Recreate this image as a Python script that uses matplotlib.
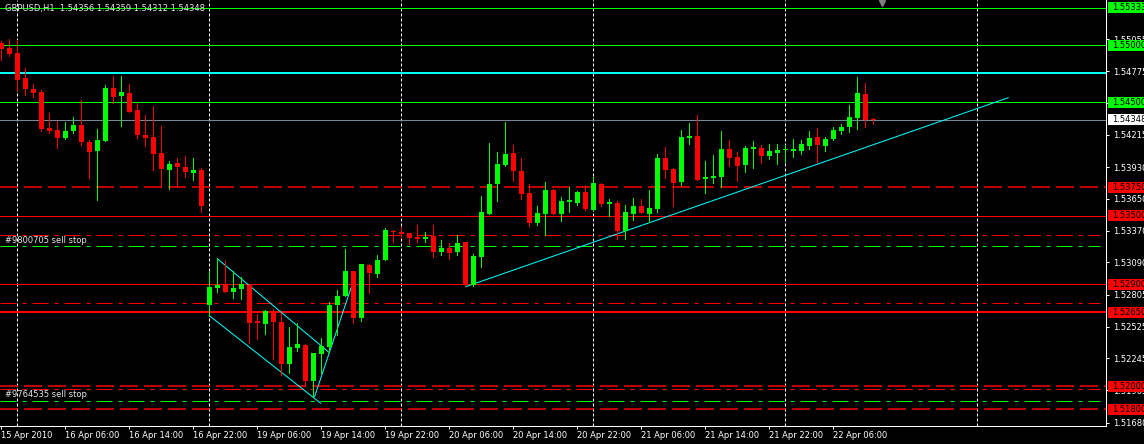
import numpy as np
import matplotlib
matplotlib.use('Agg')
import matplotlib.pyplot as plt
from matplotlib.patches import Rectangle
from matplotlib.transforms import blended_transform_factory

plt.rcParams['font.family'] = ['DejaVu Sans']
plt.rcParams['lines.scale_dashes'] = False

# GBPUSD H1, 15 Apr 22:00 .. 22 Apr 11:00 (weekend skipped)
opens = [1.55021, 1.54977, 1.54931, 1.54714, 1.54617, 1.54590, 1.54277, 1.54256, 1.54186, 1.54247,
         1.54300, 1.54150, 1.54074, 1.54162, 1.54626, 1.54558, 1.54582, 1.54432, 1.54212, 1.54195,
         1.54054, 1.53907, 1.53966, 1.53931, 1.53881, 1.53904, 1.52716, 1.52868, 1.52901, 1.52833,
         1.52857, 1.52892, 1.52575, 1.52552, 1.52663, 1.52566, 1.52200, 1.52341, 1.52364, 1.52047,
         1.52288, 1.52346, 1.52716, 1.52795, 1.53015, 1.52601, 1.53068, 1.52989, 1.53112, 1.53367,
         1.53358, 1.53350, 1.53317, 1.53300, 1.53326, 1.53185, 1.53218, 1.53185, 1.53270, 1.52892,
         1.53141, 1.53520, 1.53781, 1.53951, 1.54053, 1.53895, 1.53702, 1.53438, 1.53520, 1.53728,
         1.53520, 1.53625, 1.53616, 1.53710, 1.53555, 1.53781, 1.53608, 1.53613, 1.53370, 1.53520,
         1.53587, 1.53520, 1.53561, 1.54010, 1.53913, 1.53798, 1.54188, 1.54203, 1.53828, 1.53833,
         1.53842, 1.54089, 1.54018, 1.53951, 1.54092, 1.54097, 1.54030, 1.54056, 1.54077, 1.54071,
         1.54074, 1.54118, 1.54194, 1.54118, 1.54180, 1.54247, 1.54282, 1.54362, 1.54573, 1.54356]
highs = [1.55039, 1.55057, 1.55048, 1.54802, 1.54664, 1.54608, 1.54406, 1.54338, 1.54326, 1.54370,
         1.54520, 1.54168, 1.54265, 1.54649, 1.54731, 1.54731, 1.54661, 1.54494, 1.54388, 1.54467,
         1.54291, 1.53983, 1.54010, 1.54027, 1.54010, 1.53922, 1.53015, 1.53127, 1.53103, 1.53015,
         1.52962, 1.52892, 1.52637, 1.52672, 1.52681, 1.52646, 1.52522, 1.52558, 1.52373, 1.52294,
         1.52426, 1.52742, 1.52848, 1.53209, 1.53015, 1.53077, 1.53077, 1.53156, 1.53393, 1.53376,
         1.53402, 1.53350, 1.53420, 1.53358, 1.53420, 1.53288, 1.53262, 1.53332, 1.53270, 1.53165,
         1.53675, 1.54141, 1.54062, 1.54326, 1.54124, 1.54010, 1.53781, 1.53587, 1.53798, 1.53737,
         1.53666, 1.53754, 1.53719, 1.53772, 1.53842, 1.53790, 1.53649, 1.53631, 1.53596, 1.53658,
         1.53649, 1.53728, 1.54045, 1.54106, 1.53921, 1.54256, 1.54317, 1.54388, 1.53983, 1.54036,
         1.54247, 1.54168, 1.54062, 1.54115, 1.54159, 1.54124, 1.54133, 1.54133, 1.54124, 1.54177,
         1.54168, 1.54247, 1.54273, 1.54194, 1.54282, 1.54309, 1.54476, 1.54722, 1.54669, 1.54359]
lows = [1.54872, 1.54907, 1.54608, 1.54564, 1.54549, 1.54250, 1.54230, 1.54101, 1.54177, 1.54230,
        1.54124, 1.53837, 1.53643, 1.54162, 1.54491, 1.54294, 1.54417, 1.54189, 1.54118, 1.53907,
        1.53755, 1.53740, 1.53755, 1.53846, 1.53819, 1.53538, 1.52622, 1.52833, 1.52833, 1.52780,
        1.52769, 1.52382, 1.52417, 1.52464, 1.52244, 1.52097, 1.52118, 1.52311, 1.52006, 1.51909,
        1.52121, 1.52294, 1.52452, 1.52795, 1.52558, 1.52578, 1.52821, 1.52962, 1.53112, 1.53270,
        1.53306, 1.53256, 1.53273, 1.53273, 1.53141, 1.53159, 1.53124, 1.53159, 1.52883, 1.52886,
        1.53053, 1.53520, 1.53634, 1.53942, 1.53810, 1.53652, 1.53414, 1.53423, 1.53335, 1.53520,
        1.53458, 1.53537, 1.53599, 1.53555, 1.53555, 1.53590, 1.53502, 1.53300, 1.53300, 1.53467,
        1.53526, 1.53449, 1.53537, 1.53836, 1.53590, 1.53775, 1.54136, 1.53819, 1.53704, 1.53792,
        1.53757, 1.53942, 1.53810, 1.53889, 1.53921, 1.53968, 1.54004, 1.53960, 1.53974, 1.54021,
        1.54048, 1.54092, 1.53977, 1.54074, 1.54168, 1.54224, 1.54241, 1.54265, 1.54282, 1.54312]
closes = [1.54969, 1.54925, 1.54699, 1.54617, 1.54582, 1.54265, 1.54247, 1.54189, 1.54247, 1.54300,
          1.54153, 1.54065, 1.54168, 1.54626, 1.54549, 1.54590, 1.54417, 1.54212, 1.54189, 1.54048,
          1.53916, 1.53957, 1.53934, 1.53890, 1.53904, 1.53590, 1.52874, 1.52892, 1.52833, 1.52866,
          1.52901, 1.52560, 1.52560, 1.52663, 1.52569, 1.52200, 1.52346, 1.52373, 1.52047, 1.52294,
          1.52355, 1.52716, 1.52795, 1.53015, 1.52601, 1.53077, 1.52998, 1.53112, 1.53376, 1.53358,
          1.53344, 1.53309, 1.53300, 1.53317, 1.53185, 1.53218, 1.53174, 1.53262, 1.52892, 1.53147,
          1.53534, 1.53781, 1.53957, 1.54045, 1.53898, 1.53696, 1.53438, 1.53526, 1.53728, 1.53520,
          1.53631, 1.53643, 1.53710, 1.53564, 1.53790, 1.53608, 1.53622, 1.53370, 1.53534, 1.53587,
          1.53526, 1.53570, 1.54010, 1.53907, 1.53792, 1.54194, 1.54203, 1.53819, 1.53842, 1.53854,
          1.54089, 1.54012, 1.53942, 1.54097, 1.54106, 1.54030, 1.54071, 1.54080, 1.54083, 1.54089,
          1.54133, 1.54185, 1.54124, 1.54180, 1.54256, 1.54282, 1.54370, 1.54581, 1.54344, 1.54348]

time_labels = ['15 Apr 2010', '16 Apr 06:00', '16 Apr 14:00', '16 Apr 22:00', '19 Apr 06:00',
               '19 Apr 14:00', '19 Apr 22:00', '20 Apr 06:00', '20 Apr 14:00', '20 Apr 22:00',
               '21 Apr 06:00', '21 Apr 14:00', '21 Apr 22:00', '22 Apr 06:00']
day_starts = [2, 26, 50, 74, 98, 122]   # bar index of 00:00 of each day

price_ticks = [1.55055, 1.54775, 1.54495, 1.54215, 1.53930, 1.53650, 1.53370, 1.53090,
               1.52805, 1.52525, 1.52245, 1.51965, 1.51680]

# objects on the chart
green_levels = [1.55333, 1.55000, 1.54500]
red_levels = [1.53500, 1.52900]
red_thick_level = 1.52650
red_dashed_levels = [1.53750, 1.52000, 1.51800]
aqua_level = 1.54760
bid = 1.54348
order_prices = [1.53232, 1.51871]
order_names = ['#9800705 sell stop', '#9764535 sell stop']
sltp_levels = [1.53332, 1.52731, 1.51977]

trend_lines = [
    ([27.04, 41.04], [1.53123, 1.52296]),
    ([26.04, 39.96], [1.52622, 1.51851]),
    ([39.2, 44.0], [1.51910, 1.52918]),
    ([58.1, 125.9], [1.52877, 1.54540]),
]

W, H = 1144, 444
PX = 0.72  # one pixel in points

fig = plt.figure(figsize=(W / 100, H / 100), dpi=100)
fig.patch.set_facecolor('black')
ax = fig.add_axes([0, 18.5 / H, 1105.5 / W, 425.5 / H])
ax.set_facecolor('black')
ax.set_xlim(-0.125, 138.06)
ax.set_ylim(1.51655, 1.55400)
ppu = 425.5 / (1.55400 - 1.51655)  # pixels per price unit

for s in ['top', 'left']:
    ax.spines[s].set_visible(False)
for s in ['right', 'bottom']:
    ax.spines[s].set_color('white')
    ax.spines[s].set_linewidth(PX)

# day separators
for d in day_starts:
    ax.axvline(d, color='white', lw=PX, ls=(0, (3 * PX, 2 * PX)), zorder=1)

# horizontal objects
for p in green_levels:
    ax.axhline(p, color='#00FF00', lw=PX, zorder=2)
for p in red_levels:
    ax.axhline(p, color='#FF0000', lw=PX, zorder=2)
ax.axhline(red_thick_level, color='#FF0000', lw=2 * PX, zorder=2)
for p in red_dashed_levels:
    ax.axhline(p, color='#FF0000', lw=1.5 * PX, ls=(0, (18 * PX, 6 * PX)), zorder=2)
ax.axhline(aqua_level, color='#00FFFF', lw=2 * PX, zorder=2)
ax.axhline(bid, color='#778899', lw=PX, zorder=2)
dashdot = (0, (16 * PX, 6 * PX, 4 * PX, 6 * PX))
for p in sltp_levels:
    ax.axhline(p, xmax=1100 / 1105.5, color='#FF0000', lw=PX, ls=dashdot, zorder=2)
for p, name in zip(order_prices, order_names):
    ax.axhline(p, xmax=1100 / 1105.5, color='#00FF00', lw=PX, ls=dashdot, zorder=2)
    ax.text(5 / 1105.5, p + 1.5 / ppu, name, color='#E6E6E6', fontsize=6, va='bottom', ha='left',
            transform=blended_transform_factory(ax.transAxes, ax.transData), zorder=3)

for xs, ys in trend_lines:
    ax.plot(xs, ys, color='#00FFFF', lw=PX, zorder=3)

# candles
x = np.arange(len(opens))
o, h, l, c = map(np.array, (opens, highs, lows, closes))
col = np.where(c >= o, '#00FF00', '#FF0000')
ax.vlines(x, l, h, colors=col, linewidth=PX, zorder=4, antialiased=False)
ax.bar(x, np.maximum(np.abs(c - o), 1 / ppu), bottom=np.minimum(o, c), width=0.625,
       color=col, linewidth=0, zorder=5, antialiased=False)

# axes ticks
ax.set_xticks(np.arange(len(time_labels)) * 8)
ax.set_xticklabels(time_labels)
for t in ax.get_xticklabels():
    t.set_ha('left')
ax.tick_params(axis='x', colors='white', labelsize=6, length=3 * PX, width=PX, pad=2)
ax.yaxis.tick_right()
ax.set_yticks(price_ticks)
ax.set_yticklabels([f'{p:.5f}' for p in price_ticks])
ax.tick_params(axis='y', colors='white', labelsize=6, length=3 * PX, width=PX, pad=3)

# price labels of the objects on the right scale
btr = blended_transform_factory(fig.transFigure, ax.transData)
boxes = [(p, '#00FF00') for p in green_levels] + [(bid, 'white')] + \
        [(p, '#FF0000') for p in sorted(red_dashed_levels + red_levels + [red_thick_level], reverse=True)]
for p, fc in boxes:
    fig.add_artist(Rectangle((1108 / W, p - 5.5 / ppu), 40 / W, 11 / ppu, transform=btr,
                             facecolor=fc, edgecolor='none', clip_on=False))
    fig.text(1112 / W, p, f'{p:.5f}', transform=btr, color='black', fontsize=6, va='center', ha='left')

# header and chart shift marker
fig.text(5 / W, 1 - 8 / H, f'GBPUSD,H1  {o[-1]:.5f} {h[-1]:.5f} {l[-1]:.5f} {c[-1]:.5f}',
         color='#E6E6E6', fontsize=6, va='center', ha='left')
ax.plot([882 / 1105.5], [1 - 3 / 425.5], marker='v', color='#808080', markersize=5,
        transform=ax.transAxes, clip_on=False, zorder=6)

fig.savefig('out.png', dpi=100, facecolor='black')
